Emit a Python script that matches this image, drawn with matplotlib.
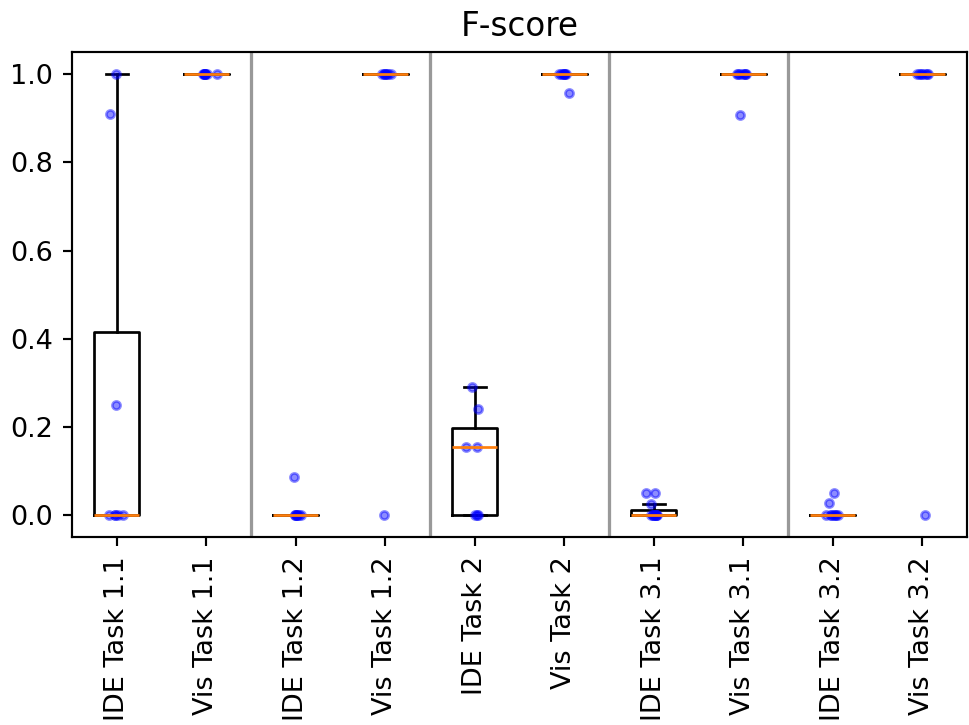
#!/usr/bin/env python3
import matplotlib
matplotlib.use("Agg")
import matplotlib.pyplot as plt
import numpy as np

# Tick labels, one per box
labels = ["IDE Task 1.1", "Vis Task 1.1", "IDE Task 1.2", "Vis Task 1.2",
          "IDE Task 2", "Vis Task 2", "IDE Task 3.1", "Vis Task 3.1",
          "IDE Task 3.2", "Vis Task 3.2"]

# F-score per participant
ide_1_1 = [0.0, 0.0, 0.0, 0.0, 0.0, 0.25, 0.91, 1.0]
vis_1_1 = [1.0, 1.0, 1.0, 1.0, 1.0, 1.0, 1.0, 1.0]
ide_1_2 = [0.0, 0.0, 0.0, 0.0, 0.0, 0.0, 0.0, 0.087]
vis_1_2 = [1.0, 1.0, 1.0, 1.0, 1.0, 1.0, 1.0, 0.0]
ide_2 = [0.0, 0.0, 0.0, 0.155, 0.155, 0.24, 0.29]
vis_2 = [1.0, 1.0, 1.0, 1.0, 1.0, 1.0, 1.0, 0.957]
ide_3_1 = [0.0, 0.0, 0.0, 0.0, 0.0, 0.0, 0.0, 0.0, 0.025, 0.05, 0.05]
vis_3_1 = [1.0, 1.0, 1.0, 1.0, 1.0, 1.0, 1.0, 0.907]
ide_3_2 = [0.0, 0.0, 0.0, 0.0, 0.0, 0.0, 0.0, 0.027, 0.05]
vis_3_2 = [1.0, 1.0, 1.0, 1.0, 1.0, 1.0, 1.0, 0.0]

data = [ide_1_1, vis_1_1, ide_1_2, vis_1_2, ide_2, vis_2,
        ide_3_1, vis_3_1, ide_3_2, vis_3_2]


def main() -> int:
    dpi = 195
    fig = plt.figure(figsize=(969 / dpi, 725 / dpi), dpi=dpi)
    ax = fig.add_axes([0.0743, 0.259, 0.9237, 0.669])

    ax.boxplot(data, showfliers=False)

    # jittered raw points on top of each box
    rng = np.random.default_rng(3)
    for i, vals in enumerate(data, start=1):
        x = i + rng.normal(0, 0.035, len(vals))
        ax.plot(x, vals, "b.", alpha=0.45)

    # separators between task pairs
    for sep in [2.5, 4.5, 6.5, 8.5]:
        ax.axvline(sep, color="0.6", linewidth=1.2)

    ax.set_xticks(range(1, len(labels) + 1))
    ax.set_xticklabels(labels, rotation=90)
    ax.set_xlim(0.5, 10.5)
    ax.set_title("F-score")

    fig.savefig("out.png", dpi=dpi)
    return 0


if __name__ == "__main__":
    raise SystemExit(main())
